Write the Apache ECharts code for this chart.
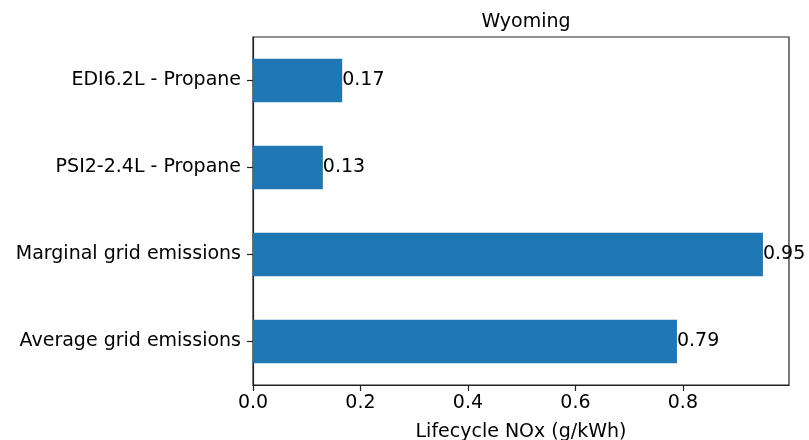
<!DOCTYPE html>
<html><head><meta charset="utf-8">
<script src="https://cdn.jsdelivr.net/npm/echarts@6/dist/echarts.min.js"></script>
<style>html,body{margin:0;padding:0;background:#fff}#c{width:809px;height:440px}</style>
</head><body><div id="c"></div>
<script>
const categories = ["Average grid emissions", "Marginal grid emissions", "PSI2-2.4L - Propane", "EDI6.2L - Propane"];
const values = [0.789, 0.949, 0.130, 0.166];
const xTicks = [0, 0.2, 0.4, 0.6, 0.8];
const titleText = "Wyoming";
const xName = "Lifecycle NOx (g/kWh)";
const font = "DejaVu Sans";
const fs = 19;
const chart = echarts.init(document.getElementById('c'), null, {renderer: 'canvas'});
chart.setOption({
  animation: false,
  title: {text: titleText, left: 521, top: 8, textAlign: 'center',
    textStyle: {fontFamily: font, fontSize: fs, fontWeight: 'normal', color: '#000'}},
  grid: {left: 253, right: 20, top: 37, bottom: 55, outerBoundsMode: 'none', containLabel: false,
    show: true, borderColor: '#222', borderWidth: 1.2, backgroundColor: 'transparent'},
  xAxis: {type: 'value', min: 0, max: 0.9975,
    name: xName, nameLocation: 'middle', nameGap: 38,
    nameTextStyle: {fontFamily: font, fontSize: fs, color: '#000'},
    axisLine: {show: true, lineStyle: {color: '#222', width: 1.2}},
    axisTick: {show: true, length: 6, customValues: xTicks, lineStyle: {color: '#222', width: 1.2}},
    axisLabel: {customValues: xTicks, formatter: v => v.toFixed(1), fontFamily: font, fontSize: fs, color: '#000', margin: 9},
    splitLine: {show: false}},
  yAxis: {type: 'category', data: categories,
    axisLine: {show: true, lineStyle: {color: '#222', width: 1.2}},
    axisTick: {show: true, alignWithLabel: true, length: 6, lineStyle: {color: '#222', width: 1.2}},
    axisLabel: {fontFamily: font, fontSize: fs, color: '#000', margin: 12},
    splitLine: {show: false}},
  series: [{type: 'bar', data: values, barWidth: '50%',
    itemStyle: {color: '#1f77b4'},
    label: {show: true, position: 'right', distance: 0, formatter: p => p.value.toFixed(2),
      fontFamily: font, fontSize: fs, color: '#000'}}]
});
</script></body></html>
